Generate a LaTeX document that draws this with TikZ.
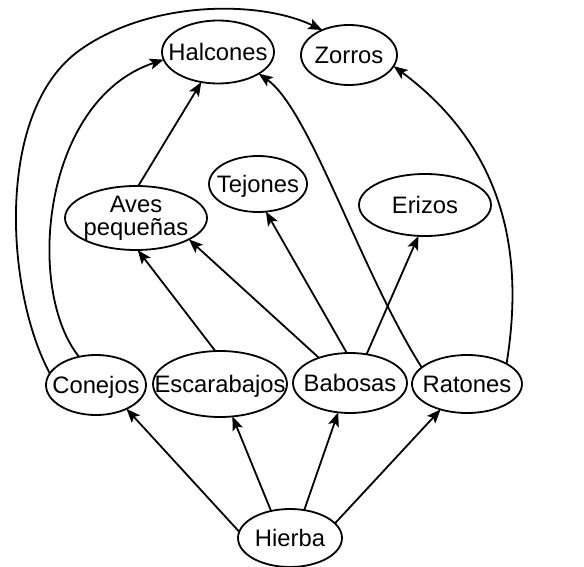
\documentclass[tikz,border=0pt]{standalone}
\usepackage{fontspec}
\setmainfont{Liberation Sans}
\usetikzlibrary{shapes.geometric,arrows.meta}
\newcommand{\animaltext}[2][-0.36em]{\makebox[0pt]{\raisebox{#1}[0pt][0pt]{#2}}}
\begin{document}
\begin{tikzpicture}[x=0.5pt,y=-0.5pt,
  animal/.style={draw, ellipse, line width=0.9pt, inner sep=0pt, outer sep=0pt,
    font=\fontsize{11.9pt}{12pt}\selectfont},
  link/.style={line width=0.9pt, -{Stealth[length=7pt,width=5.5pt,inset=1.5pt]}}]
\useasboundingbox (0,0) rectangle (584,567);
\node[animal, minimum width=56pt, minimum height=31.5pt] (hal) at (218,52) {\animaltext{Halcones}};
\node[animal, minimum width=48pt, minimum height=30pt] (zor) at (349,55) {\animaltext{Zorros}};
\node[animal, minimum width=49pt, minimum height=28pt] (tej) at (258,184) {\animaltext{Tejones}};
\node[animal, minimum width=71pt, minimum height=32pt] (ave) at (136,218) {\animaltext[-0.3em]{\begin{tabular}{@{}c@{}}Aves\\[-0.8pt]peque\~nas\end{tabular}}};
\node[animal, minimum width=66pt, minimum height=31pt] (eri) at (425,205) {\animaltext{Erizos}};
\node[animal, minimum width=50pt, minimum height=30pt] (con) at (96,385) {\animaltext{Conejos}};
\node[animal, minimum width=67pt, minimum height=33pt] (esc) at (220,384) {\animaltext{Escarabajos}};
\node[animal, minimum width=57pt, minimum height=30pt] (bab) at (350,383) {\animaltext{Babosas}};
\node[animal, minimum width=55pt, minimum height=29pt] (rat) at (467,384) {\animaltext{Ratones}};
\node[animal, minimum width=52pt, minimum height=29pt] (hie) at (290,538) {\animaltext{Hierba}};
% grass
\draw[link] (hie.173) -- (con.-38);
\draw[link] (hie.125) -- (esc.-69);
\draw[link] (hie.63) -- (bab.-112);
\draw[link] (hie.18) -- (rat.-136);
% middle
\draw[link] (esc.98) -- (ave.-87);
\draw[link] (bab.141) -- (ave.-22);
\draw[link] (bab.96) -- (tej.-74);
\draw[link] (bab.60) -- (eri.-102);
\draw[link] (ave.86) -- (hal.-119);
% curves
\draw[link] (con.121) .. controls (25,290) and (42,100) .. (hal.188);
\draw[link] (con.166) .. controls (5,290) and (-5,110) .. (80,50) .. controls (150,0) and (260,0) .. (zor.137);
\draw[link] (rat.160) .. controls (360,270) and (310,110) .. (hal.-28);
\draw[link] (rat.27) .. controls (520,280) and (520,160) .. (zor.-14);
\end{tikzpicture}
\end{document}
